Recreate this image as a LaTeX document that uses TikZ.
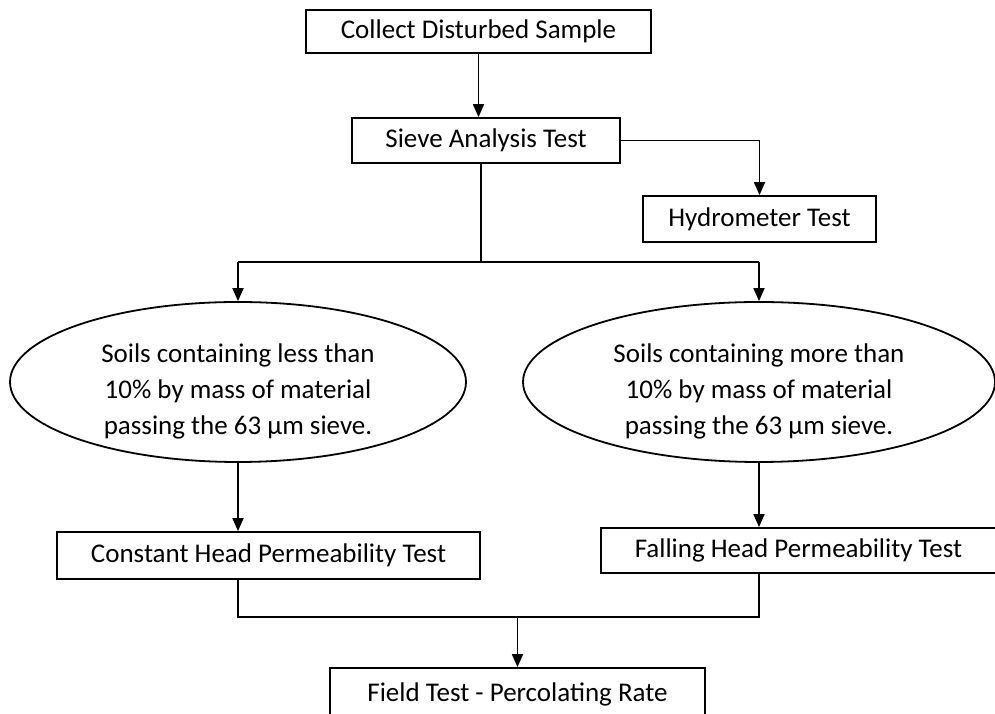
\documentclass[tikz,border=0pt]{standalone}
\usepackage{fontspec}
\setmainfont{Carlito}
\usetikzlibrary{shapes.geometric,arrows.meta}
\begin{document}
\begin{tikzpicture}[x=1pt,y=1pt,
  txt/.style={font=\fontsize{27}{36}\selectfont, align=center, inner sep=0pt},
  boxnode/.style={txt, draw, line width=1.8pt},
  ellnode/.style={draw, ellipse, line width=1.8pt, inner sep=0pt},
  conn/.style={line width=1.8pt},
  arr/.style={conn, -{Triangle[length=13pt,width=11pt]}}]
\useasboundingbox (0,0) rectangle (995,714);
\node[boxnode, minimum width=345, minimum height=43] (collect) at (478.5,682.5) {Collect Disturbed Sample};
\node[boxnode, minimum width=268, minimum height=45] (sieve) at (486,573.5) {Sieve Analysis Test};
\node[boxnode, minimum width=233, minimum height=46] (hydro) at (759.5,495) {Hydrometer Test};
\node[ellnode, minimum width=456, minimum height=160] (ellL) at (238,332) {};
\node[txt] (ellLtext) at ([yshift=-9pt]ellL.center) {Soils containing less than\\10\% by mass of material\\passing the 63 µm sieve.};
\node[ellnode, minimum width=472, minimum height=160] (ellR) at (759,332) {};
\node[txt] (ellRtext) at ([yshift=-9pt]ellR.center) {Soils containing more than\\10\% by mass of material\\passing the 63 µm sieve.};
\node[boxnode, minimum width=423, minimum height=47] (const) at (268.5,158.5) {Constant Head Permeability Test};
\node[boxnode, minimum width=395, minimum height=45] (fall) at (798.5,163.5) {Falling Head Permeability Test};
\node[boxnode, minimum width=375, minimum height=52] (field) at (517.5,20) {Field Test - Percolating Rate};
\coordinate (j1) at (481,452);
\coordinate (j2) at (517.5,97);
\draw[arr] (collect.south) -- (collect.south |- sieve.north);
\draw[arr] (sieve.east) -| (hydro.north);
\draw[conn] (j1 |- sieve.south) -- (j1);
\draw[conn] (ellL.north |- j1) -- (ellR.north |- j1);
\draw[arr] (ellL.north |- j1) -- (ellL.north);
\draw[arr] (ellR.north |- j1) -- (ellR.north);
\draw[arr] (ellL.south) -- (ellL.south |- const.north);
\draw[arr] (ellR.south) -- (ellR.south |- fall.north);
\draw[conn] (ellL.south |- const.south) -- (ellL.south |- j2) -- (ellR.south |- j2) -- (ellR.south |- fall.south);
\draw[arr] (j2) -- (field.north);
\end{tikzpicture}
\end{document}
